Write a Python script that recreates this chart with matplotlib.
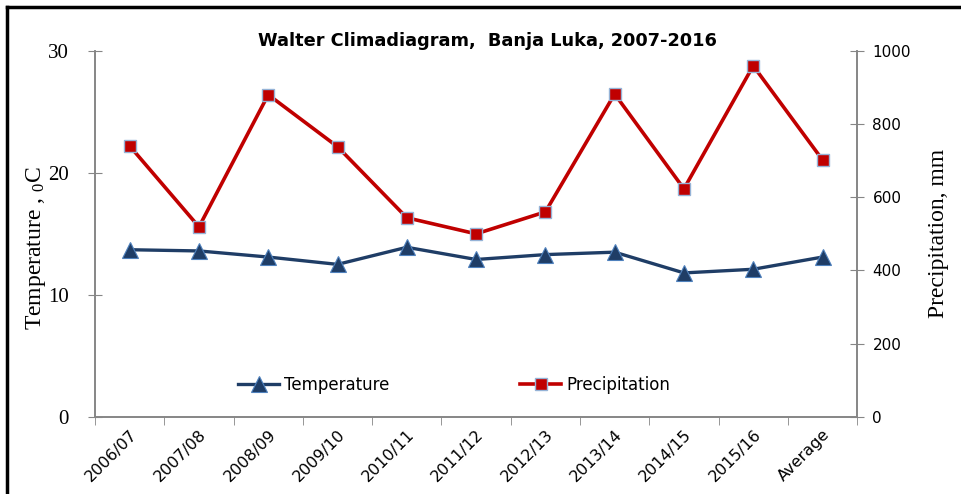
import matplotlib
matplotlib.use("Agg")
import matplotlib.pyplot as plt
from matplotlib.lines import Line2D
import numpy as np

seasons = ["2006/07", "2007/08", "2008/09", "2009/10", "2010/11", "2011/12",
           "2012/13", "2013/14", "2014/15", "2015/16", "Average"]
temperature = [13.7, 13.6, 13.1, 12.5, 13.9, 12.9, 13.3, 13.5, 11.8, 12.1, 13.1]
precipitation = [740, 519, 880, 738, 544, 500, 560, 882, 623, 959, 702]
temp_ticks = [0, 10, 20, 30]
prec_ticks = [0, 200, 400, 600, 800, 1000]

grey = "#868686"
navy = "#1F3D66"
red = "#C00000"

fig = plt.figure(figsize=(9.62, 4.94), dpi=100)
ax = fig.add_axes([0.0988, 0.156, 0.7922, 0.7412])
ax2 = ax.twinx()

x = np.arange(len(seasons)) + 0.5

l1, = ax.plot(x, temperature, color=navy, lw=2.4, marker="^", ms=11,
              markerfacecolor=navy, markeredgecolor="#4F81BD", markeredgewidth=0.8,
              label="Temperature")
l2, = ax2.plot(x, precipitation, color=red, lw=2.6, marker="s", ms=9,
               markerfacecolor=red, markeredgecolor="#95B3D7", markeredgewidth=1.0,
               label="Precipitation")

ax.set_xlim(0, len(seasons))
ax.set_ylim(0, 30)
ax2.set_ylim(0, 1000)

ax.set_xticks(x)
ax.set_xticklabels(seasons, rotation=45, ha="right", rotation_mode="anchor",
                   fontsize=11.5, family="DejaVu Sans")
ax.set_xticks(np.arange(len(seasons) + 1), minor=True)
ax.tick_params(axis="x", which="major", length=0, pad=7)
ax.tick_params(axis="x", which="minor", direction="out", length=6, color=grey)

ax.set_yticks(temp_ticks)
ax.set_yticklabels([str(t) for t in temp_ticks], family="Liberation Serif", fontsize=15)
ax.tick_params(axis="y", direction="inout", length=10, color=grey, pad=14)

ax2.set_yticks(prec_ticks)
ax2.set_yticklabels([str(t) for t in prec_ticks], family="DejaVu Sans", fontsize=11)
ax2.tick_params(axis="y", direction="inout", length=10, color=grey, pad=6)

for a in (ax, ax2):
    a.spines["top"].set_visible(False)
    for s in ("left", "right", "bottom"):
        a.spines[s].set_color(grey)
        a.spines[s].set_linewidth(1.2)

ax.set_ylabel(r"Temperature , $\mathregular{_{0}}$C", family="Liberation Serif",
              fontsize=17)
ax.yaxis.set_label_coords(-0.062, 0.46)
ax2.set_ylabel("Precipitation, mm", family="Liberation Serif", fontsize=17,
               labelpad=12)

fig.text(0.507, 0.918, "Walter Climadiagram,  Banja Luka, 2007-2016",
         ha="center", va="center", fontsize=12.8, fontweight="bold",
         family="DejaVu Sans")

fig.legend(handles=[l1, l2], loc="center", bbox_to_anchor=(0.472, 0.2206),
           ncol=2, frameon=False, handlelength=2.5, handletextpad=0.3,
           columnspacing=7.8, prop={"family": "DejaVu Sans", "size": 12})

# outer frame of the original chart (only top and left edges visible)
fig.add_artist(Line2D([0.007, 1.0], [0.986, 0.986], transform=fig.transFigure,
                      color="black", lw=2.5))
fig.add_artist(Line2D([0.007, 0.007], [0.0, 0.986], transform=fig.transFigure,
                      color="black", lw=2.5))

fig.savefig("out.png", dpi=100)
